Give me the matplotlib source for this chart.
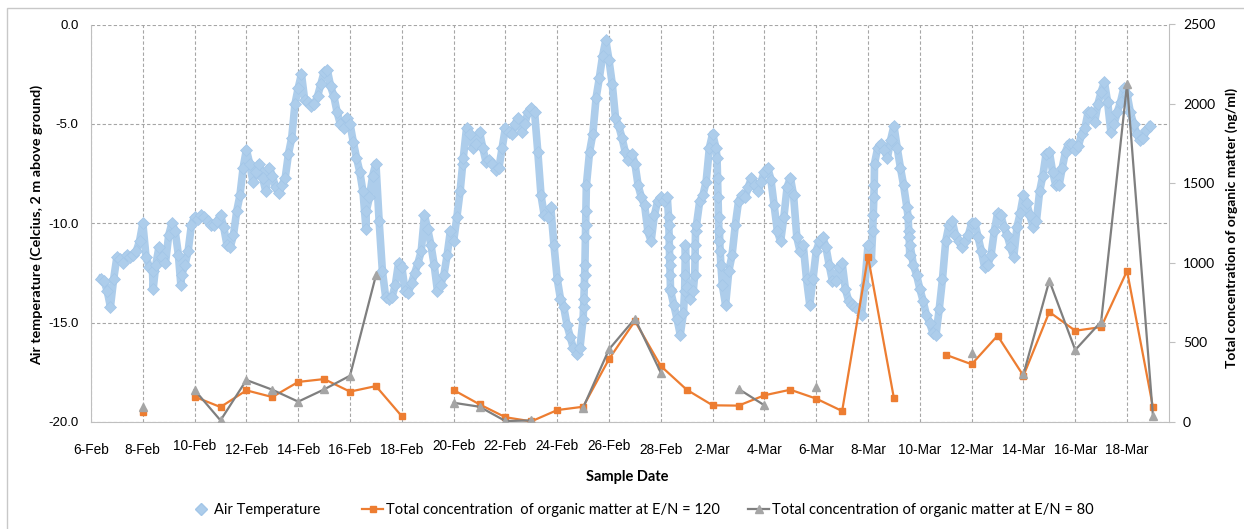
import numpy as np
import matplotlib.pyplot as plt
from matplotlib.lines import Line2D
from matplotlib.patches import Rectangle

# air temperature, 3-hourly readings starting 6-Feb 00:00 (one row per day)
air_temp = [
    np.nan, np.nan, np.nan, -12.8, -12.9, -13.4, -14.2, -12.8,
    -11.7, -11.8, -12.0, -11.6, -11.7, -11.6, -11.4, -10.9,
    -10.0, -11.7, -12.2, -12.4, -12.1, -11.2, -11.7, -12.0,
    -10.6, -10.0, -10.4, -11.6, -12.6, -12.1, -11.4, -10.1,
    -9.7, -9.8, -9.6, -9.7, -9.9, -10.1, -10.1, -9.9,
    -9.6, -10.2, -11.1, -11.2, -10.6, -9.4, -8.6, -7.2,
    -6.3, -7.0, -7.9, -7.4, -7.0, -7.7, -8.4, -7.2,
    -7.6, -8.2, -8.5, -8.1, -7.7, -6.5, -5.7, -4.0,
    -3.2, -2.5, -3.8, -3.9, -4.1, -4.0, -3.6, -3.0,
    -2.4, -2.3, -3.1, -3.6, -4.4, -5.0, -5.2, -4.7,
    -5.0, -5.9, -6.7, -7.4, -8.4, -9.4, -8.7, -7.6,
    -7.0, -9.9, -12.4, -13.7, -13.8, -13.7, -13.1, -12.0,
    -12.2, -13.4, -13.5, -13.0, -12.5, -12.0, -11.4, -9.6,
    -10.3, -11.1, -12.1, -13.4, -13.1, -12.6, -11.6, -10.4,
    -10.9, -9.7, -8.4, -6.7, -5.2, -5.5, -6.2, -6.0,
    -5.4, -6.2, -6.9, -6.8, -7.0, -7.3, -7.2, -6.2,
    -5.2, -5.4, -5.5, -5.0, -4.7, -5.4, -5.0, -4.4,
    -4.2, -4.4, -6.4, -8.6, -9.6, -9.7, -9.2, -11.1,
    -12.8, -13.8, -14.2, -15.1, -15.7, -16.3, -16.6, -16.3,
    -14.8, -8.1, -6.4, -5.5, -3.7, -2.7, -1.6, -0.8,
    -1.8, -3.0, -4.7, -5.1, -5.7, -6.4, -6.8, -6.5,
    -7.0, -8.1, -8.7, -9.1, -10.4, -10.9, -9.6, -8.9,
    -8.7, -8.9, -8.7, -13.4, -14.1, -14.8, -15.6, -14.5,
    -13.2, -13.8, -13.4, -10.1, -8.9, -8.6, -7.9, -6.2,
    -5.5, -6.2, -10.9, -13.1, -14.1, -12.4, -11.6, -10.1,
    -8.9, -8.6, -8.7, -8.2, -7.7, -8.1, -8.4, -7.9,
    -7.4, -7.2, -7.8, -9.1, -10.4, -10.9, -9.7, -8.2,
    -7.7, -8.6, -10.7, -11.4, -11.1, -12.8, -14.1, -12.8,
    -11.4, -10.9, -10.7, -11.2, -12.1, -12.9, -12.9, -12.2,
    -12.0, -13.3, -13.9, -14.1, -14.2, -14.3, -14.6, -13.1,
    -11.1, -11.9, -7.0, -6.2, -6.0, -6.3, -6.7, -5.8,
    -5.1, -6.2, -7.2, -8.1, -9.2, -11.1, -12.1, -12.6,
    -13.3, -13.9, -14.6, -15.0, -15.5, -15.6, -14.3, -12.8,
    -10.9, -10.1, -9.9, -10.6, -10.9, -11.2, -10.9, -10.6,
    -10.0, -10.0, -10.7, -11.4, -12.2, -12.1, -11.6, -10.4,
    -9.5, -9.6, -10.2, -10.6, -11.2, -11.7, -10.2, -9.5,
    -8.6, -9.0, -9.6, -10.2, -9.9, -8.4, -7.6, -6.5,
    -6.4, -7.4, -8.1, -8.1, -7.2, -6.4, -6.0, -6.0,
    -6.3, -6.1, -5.5, -5.2, -4.4, -4.4, -4.9, -4.0,
    -3.4, -2.9, -3.9, -5.4, -5.0, -4.4, -3.9, -3.2,
    -3.5, -4.4, -5.0, -5.5, -5.8, -5.7, -5.3, -5.1,
]

# extra readings in fast transitions (day since 6-Feb, temperature)
extra_day = [2.40, 3.47, 10.62, 14.35,
             19.02, 19.03, 19.05, 19.06, 19.07, 19.09, 19.10, 19.11,
             22.30, 22.31, 22.32, 22.33, 22.34, 22.35, 22.36, 22.37,
             22.92, 22.93, 22.94, 22.95,
             23.31, 23.32, 23.33, 23.34,
             24.17, 24.19, 24.21, 24.23, 24.26, 24.29, 24.32,
             30.18, 30.20, 30.22, 30.24,
             31.55, 31.57, 31.59, 31.61]
extra_temp = [-13.3, -13.1, -10.3, -7.0,
              -14.2, -13.8, -13.1, -12.6, -12.1, -10.7, -10.1, -9.4,
              -9.7, -10.1, -10.7, -11.2, -11.7, -12.1, -12.6, -13.3,
              -13.4, -12.6, -11.7, -11.1,
              -12.6, -11.7, -11.1, -10.4,
              -6.7, -7.7, -8.7, -9.7, -10.4, -11.4, -12.1,
              -10.4, -9.6, -8.7, -8.1,
              -9.7, -10.4, -10.7, -11.6]

# daily samples, 8-Feb (day 2) to 19-Mar (day 41)
sample_day = list(range(2, 42))
conc_en120 = [65, np.nan, 159, 94, 199, 157, 252, 270, 191, 226,
              36, np.nan, 201, 111, 30, 4, 75, 96, 396, 635,
              352, 203, 105, 103, 168, 203, 147, 69, 1040, 149,
              np.nan, 423, 363, 543, 291, 692, 574, 597, 950, 94]
conc_en80 = [96, np.nan, 201, 10, 264, 203, 128, 205, 291, 922,
             np.nan, np.nan, 121, 96, 6, 10, np.nan, 90, 457, 650,
             310, np.nan, np.nan, 208, 105, np.nan, 222, np.nan, np.nan, np.nan,
             np.nan, np.nan, 436, np.nan, 300, 889, 453, 631, 2124, 38]

tick_days = list(range(0, 41, 2))
tick_labels = ['6-Feb', '8-Feb', '10-Feb', '12-Feb', '14-Feb', '16-Feb', '18-Feb',
               '20-Feb', '22-Feb', '24-Feb', '26-Feb', '28-Feb', '2-Mar', '4-Mar',
               '6-Mar', '8-Mar', '10-Mar', '12-Mar', '14-Mar', '16-Mar', '18-Mar']
raised = ['10-Feb', '20-Feb', '22-Feb', '24-Feb', '26-Feb']

temp_labels = ['0.0', '-5.0', '-10.0', '-15.0', '-20.0']
temp_ticks = [0, -5, -10, -15, -20]
conc_ticks = [0, 500, 1000, 1500, 2000, 2500]

BLUE = '#ADCDEB'
BLUE_EDGE = '#A3C6E8'
ORANGE = '#ED7D31'
GREY = '#7F7F7F'
GREY_MK = '#A5A5A5'
ARIAL = 'Liberation Sans'
CALIBRI = 'Lato'

W, H = 1244, 529
fig = plt.figure(figsize=(W / 100, H / 100), dpi=100)
ax = fig.add_axes([91 / W, 1 - 422 / H, (1169 - 91) / W, (422 - 24.5) / H])
ax2 = ax.twinx()

# temperature trace
t = np.concatenate([np.arange(len(air_temp)) / 8.0, extra_day])
v = np.concatenate([air_temp, extra_temp])
order = np.argsort(t)
ax.plot(t[order], v[order], color=BLUE, lw=5.5, zorder=2)
ax.plot(t[order], v[order], 'D', ls='none', ms=6.5, color=BLUE, mec=BLUE_EDGE, mew=0.5, zorder=3)

ax.set_xlim(0, 41.62)
ax.set_ylim(-20, 0)
ax.set_xticks(tick_days)
ax.set_xticklabels(tick_labels, fontfamily=ARIAL, fontsize=9.8)
ax.set_yticks(temp_ticks)
ax.set_yticklabels(temp_labels, fontfamily=ARIAL, fontsize=9.5)
ax.tick_params(axis='x', length=0, pad=15)
ax.tick_params(axis='y', length=0, pad=9)
for tk, lab in zip(ax.xaxis.get_major_ticks(), tick_labels):
    if lab in raised:
        tk.set_pad(12)
ax.grid(True, ls=(0, (3, 2)), color='#A6A6A6', lw=0.8)
ax.set_axisbelow(True)
for s in ['top', 'right']:
    ax.spines[s].set_visible(False)
for s in ['left', 'bottom']:
    ax.spines[s].set_color('#BFBFBF')

# concentrations
ax2.plot(sample_day, conc_en120, color=ORANGE, lw=1.6, marker='s', ms=5, zorder=4)
ax2.plot(sample_day, conc_en80, color=GREY, lw=1.6, marker='^', ms=5.5,
         mfc=GREY_MK, mec=GREY_MK, zorder=5)
ax2.set_ylim(0, 2500)
ax2.set_yticks(conc_ticks)
ax2.set_yticklabels([str(c) for c in conc_ticks], fontfamily=CALIBRI, fontsize=10)
ax2.tick_params(axis='y', length=4, color='#BFBFBF', pad=6)
for s in ['top', 'left', 'bottom']:
    ax2.spines[s].set_visible(False)
ax2.spines['right'].set_color('#BFBFBF')

fig.text(37 / W, 1 - 225 / H, 'Air temperature (Celcius, 2 m above ground)', rotation=90,
         ha='center', va='center', fontfamily=CALIBRI, fontweight='bold', fontsize=10.3)
fig.text(1232 / W, 1 - 228 / H, 'Total concentration of organic matter (ng/ml)', rotation=90,
         ha='center', va='center', fontfamily=CALIBRI, fontweight='bold', fontsize=10)
fig.text(627 / W, 1 - 477 / H, 'Sample Date', ha='center', va='center',
         fontfamily=CALIBRI, fontweight='bold', fontsize=10.5)

# legend, one entry per block
handles = [Line2D([], [], color=BLUE, marker='D', ls='none', ms=6, mec=BLUE_EDGE),
           Line2D([], [], color=ORANGE, marker='s', lw=1.6, ms=5),
           Line2D([], [], color=GREY, marker='^', lw=1.6, ms=5.5, mfc=GREY_MK, mec=GREY_MK)]
names = ['Air Temperature',
         'Total concentration  of organic matter at E/N = 120',
         'Total concentration of organic matter at E/N = 80']
starts = [190, 362, 748]
for h, n, x0 in zip(handles, names, starts):
    fig.legend([h], [n], loc='center left', bbox_to_anchor=(x0 / W, 1 - 510 / H),
               frameon=False, borderpad=0, borderaxespad=0, handlelength=1.45,
               handletextpad=0.2, prop={'family': CALIBRI, 'size': 10.5})

fig.patches.append(Rectangle((7 / W, -0.01), 1.0, 1 - 8 / H + 0.01, transform=fig.transFigure,
                             fill=False, edgecolor='#C8C8C8', lw=1))

fig.savefig('out.png', dpi=100)
